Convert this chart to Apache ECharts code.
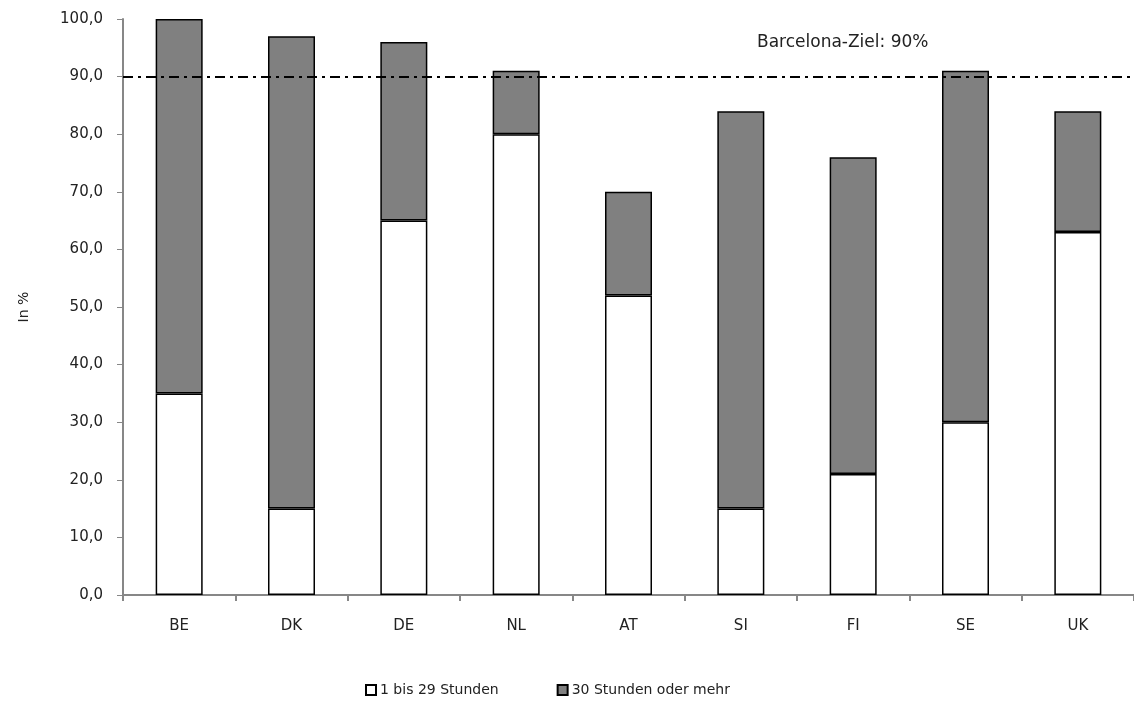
<!DOCTYPE html>
<html><head><meta charset="utf-8">
<script src="https://cdn.jsdelivr.net/npm/echarts@6/dist/echarts.min.js"></script>
<style>html,body{margin:0;padding:0;background:#fff}#c{width:1134px;height:703px}</style>
</head><body><div id="c"></div>
<script>
const categories = ['BE','DK','DE','NL','AT','SI','FI','SE','UK'];
const seriesShort = [35, 15, 65, 80, 52, 15, 21, 30, 63];
const seriesLong = [65, 82, 31, 11, 18, 69, 55, 61, 21];
const seriesNames = ['1 bis 29 Stunden', '30 Stunden oder mehr'];
const targetValue = 90;
const targetLabel = 'Barcelona-Ziel: 90%';
const yAxisName = 'In %';

const font = '"DejaVu Sans", sans-serif';
const chart = echarts.init(document.getElementById('c'));
chart.setOption({
  animation: false,
  textStyle: {fontFamily: font},
  grid: {left: 123, right: -8, top: 19, bottom: 108},
  legend: {
    bottom: 1, left: 360, itemWidth: 10, itemHeight: 10, itemGap: 58,
    textStyle: {fontFamily: font, fontSize: 14, color: '#222', padding: [0, 0, 0, -1]},
    data: seriesNames.map(n => ({name: n, icon: 'rect'}))
  },
  xAxis: {
    type: 'category', data: categories,
    axisLine: {lineStyle: {color: '#878787', width: 2}},
    axisTick: {show: true, length: 6, lineStyle: {color: '#878787', width: 2}},
    axisLabel: {color: '#222', fontSize: 15, margin: 24, fontFamily: font}
  },
  yAxis: {
    type: 'value', min: 0, max: 100, interval: 10,
    name: yAxisName, nameLocation: 'middle', nameGap: 92, nameRotate: 90,
    nameTextStyle: {color: '#222', fontSize: 14, fontFamily: font},
    axisLine: {show: true, lineStyle: {color: '#878787', width: 2}},
    axisTick: {show: true, length: 6, lineStyle: {color: '#878787', width: 1}},
    splitLine: {show: false},
    axisLabel: {color: '#222', fontSize: 15, margin: 20, fontFamily: font,
      formatter: v => v.toFixed(1).replace('.', ',')}
  },
  series: [
    {
      name: seriesNames[0], type: 'bar', stack: 's', data: seriesShort, barWidth: 47,
      itemStyle: {color: '#ffffff', borderColor: '#000', borderWidth: 1.5}
    },
    {
      name: seriesNames[1], type: 'bar', stack: 's', data: seriesLong, barWidth: 47,
      itemStyle: {color: '#808080', borderColor: '#000', borderWidth: 1.5},
      markLine: {
        symbol: 'none', silent: true,
        lineStyle: {color: '#000', width: 2, type: [10, 5, 3, 5]},
        label: {show: false},
        data: [{yAxis: targetValue}], z: 10
      }
    }
  ],
  graphic: [
    {type: 'text', left: 757, top: 34, style: {text: targetLabel, fontFamily: font, fontSize: 17, fill: '#222'}}
  ]
});
</script></body></html>
